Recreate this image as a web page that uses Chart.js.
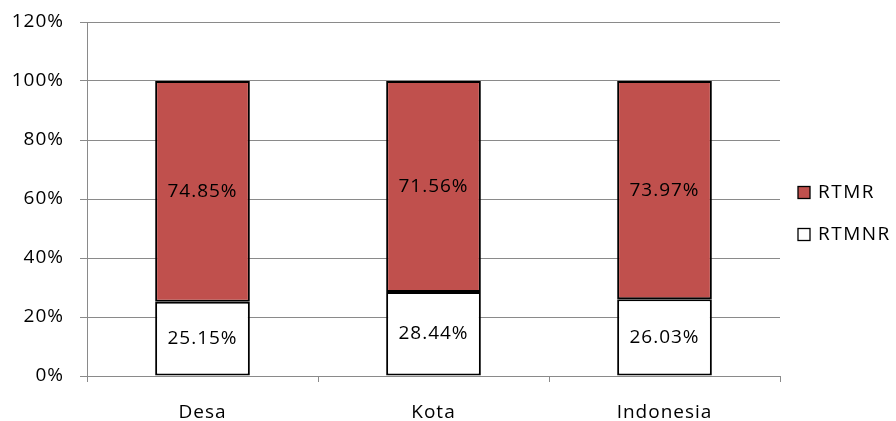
<!DOCTYPE html>
<html>
<head>
<meta charset="utf-8">
<script src="https://cdn.jsdelivr.net/npm/chart.js@4"></script>
<style>
  html, body { margin: 0; padding: 0; background: #fff; }
  #wrap { width: 896px; height: 421px; }
</style>
</head>
<body>
<div id="wrap"><canvas id="chart"></canvas></div>
<script>
"use strict";

// Categories and stacked shares (%)
const categories = ["Desa", "Kota", "Indonesia"];
const rtmnrValues = [25.15, 28.44, 26.03];
const rtmrValues = [74.85, 71.56, 73.97];
const yTicks = [0, 20, 40, 60, 80, 100, 120];

const FONT = "'Open Sans', 'Liberation Sans', sans-serif";
const GRID = "#8a8a8a";

// Slightly wider text spacing, like the original rendering
const spacing = {
  id: "spacing",
  beforeLayout(chart) {
    chart.ctx.letterSpacing = "1px";
  },
  beforeDraw(chart) {
    chart.ctx.letterSpacing = "1px";
  },
};

// Value labels centred inside each bar segment
const segmentLabels = {
  id: "segmentLabels",
  afterDatasetsDraw(chart) {
    const ctx = chart.ctx;
    ctx.save();
    ctx.letterSpacing = "1px";
    ctx.font = "19px " + FONT;
    ctx.fillStyle = "#000";
    ctx.textAlign = "center";
    ctx.textBaseline = "middle";
    chart.data.datasets.forEach((ds, i) => {
      chart.getDatasetMeta(i).data.forEach((bar, j) => {
        const y = (bar.y + bar.base) / 2;
        ctx.fillText(ds.data[j].toFixed(2) + "%", bar.x, y);
      });
    });
    ctx.restore();
  },
};

// Legend drawn at the right of the plot, top series first
const sideLegend = {
  id: "sideLegend",
  afterDraw(chart) {
    const ctx = chart.ctx;
    const area = chart.chartArea;
    const items = chart.data.datasets.slice().reverse();
    const mid = (area.top + area.bottom) / 2;
    ctx.save();
    ctx.letterSpacing = "1.5px";
    ctx.font = "19px " + FONT;
    ctx.textBaseline = "middle";
    ctx.textAlign = "left";
    items.forEach((ds, i) => {
      const y = mid - 6.5 + i * 42;
      const x = area.right + 18;
      ctx.fillStyle = ds.backgroundColor;
      ctx.fillRect(x, y - 6, 12, 12);
      ctx.strokeStyle = "#000";
      ctx.lineWidth = 1.3;
      ctx.strokeRect(x, y - 6, 12, 12);
      ctx.fillStyle = "#000";
      ctx.fillText(ds.label, x + 20, y);
    });
    ctx.restore();
  },
};

new Chart(document.getElementById("chart"), {
  type: "bar",
  data: {
    labels: categories,
    datasets: [
      {
        label: "RTMNR",
        data: rtmnrValues,
        backgroundColor: "#ffffff",
        borderColor: "#000000",
        borderWidth: 2,
        borderSkipped: false,
      },
      {
        label: "RTMR",
        data: rtmrValues,
        backgroundColor: "#c0504d",
        borderColor: "#000000",
        borderWidth: 2,
        borderSkipped: false,
      },
    ],
  },
  options: {
    responsive: true,
    maintainAspectRatio: false,
    animation: false,
    layout: { padding: { top: 22, left: 12, right: 116, bottom: 0 } },
    datasets: { bar: { categoryPercentage: 1, barPercentage: 0.41 } },
    plugins: {
      legend: { display: false },
      tooltip: { enabled: false },
    },
    scales: {
      x: {
        stacked: true,
        afterFit(axis) {
          axis.height = 45;
          axis.paddingLeft = 0;
          axis.paddingRight = 0;
        },
        grid: {
          drawOnChartArea: false,
          drawTicks: true,
          tickLength: 6,
          color: GRID,
        },
        border: { color: GRID },
        ticks: {
          color: "#000",
          padding: 19,
          font: { family: FONT, size: 19 },
        },
      },
      y: {
        stacked: true,
        min: 0,
        max: 120,
        afterBuildTicks(axis) {
          axis.ticks = yTicks.map((v) => ({ value: v }));
        },
        afterFit(axis) {
          axis.width = 75;
          axis.paddingTop = 0;
          axis.paddingBottom = 0;
        },
        grid: { color: GRID, tickLength: 7 },
        border: { color: GRID },
        ticks: {
          color: "#000",
          padding: 16,
          font: { family: FONT, size: 19 },
          callback: (v) => v + "%",
        },
      },
    },
  },
  plugins: [spacing, segmentLabels, sideLegend],
});
</script>
</body>
</html>
